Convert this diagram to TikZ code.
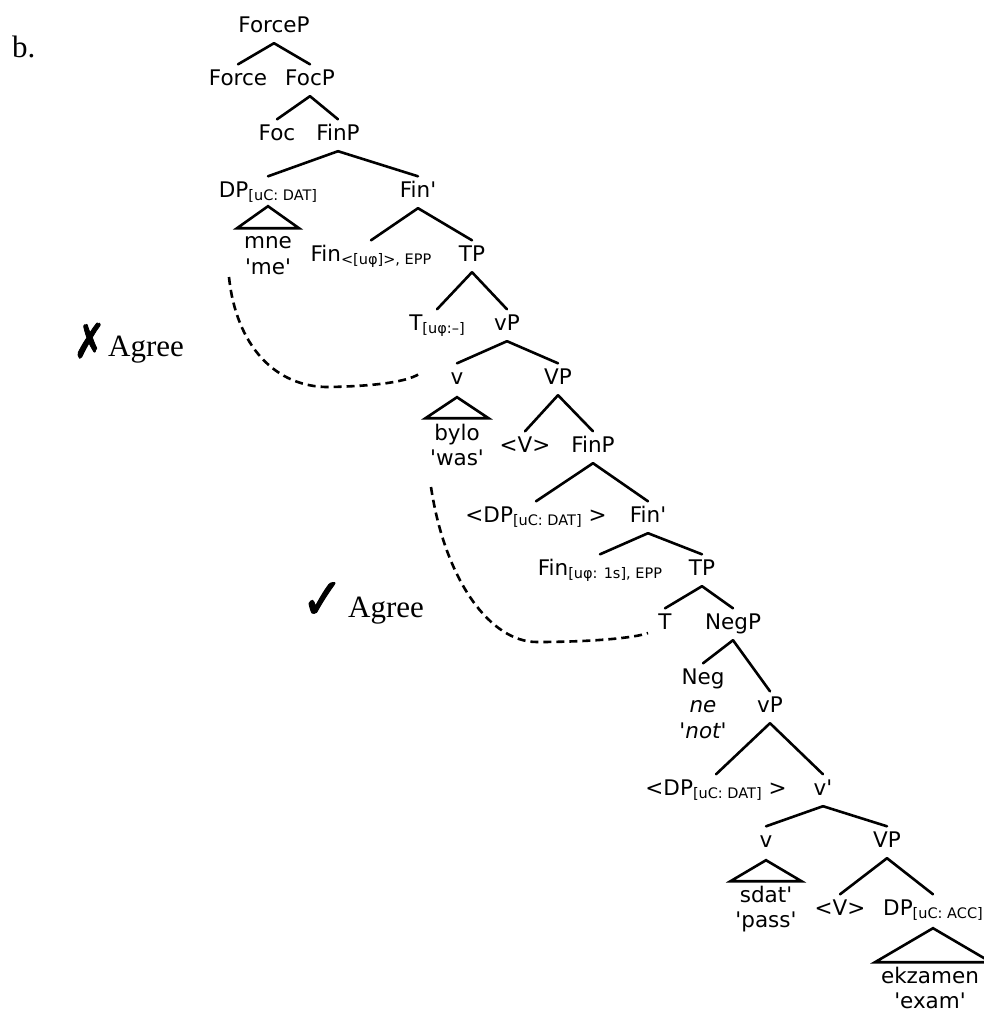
\documentclass[tikz,border=0pt]{standalone}
\usepackage{fontspec}
\newfontfamily\tf{DejaVu Sans}
\newfontfamily\tms{Liberation Serif}
\newfontfamily\symf{DejaVu Sans}[FakeBold=2]
\newcommand{\sbx}[1]{\raisebox{-3pt}{\fontsize{14.5}{15}\selectfont #1}}
\newcommand{\brn}[2]{\draw[brl] ([yshift=-11pt]#1.south) -- ([yshift=5pt]#2.north);}
\tikzset{
  cat/.style={font=\tf\fontsize{21.5}{24}\selectfont, inner sep=0pt, text height=15.5pt, text depth=0pt, anchor=base},
  lex/.style={font=\tf\fontsize{21.5}{24}\selectfont, inner sep=0pt, anchor=base},
  brl/.style={line width=2.6pt, line cap=round, line join=miter},
  agr/.style={line width=2.6pt, dash pattern=on 8pt off 5pt},
  serif/.style={font=\tms\fontsize{31}{34}\selectfont, inner sep=0pt, anchor=base west},
  symnode/.style={inner sep=0pt, text depth=0pt, anchor=south}
}
\begin{document}
\begin{tikzpicture}[x=1pt,y=-1pt]
\useasboundingbox (0,0) rectangle (984,1013);
% labels
\node[serif] (b) at (12,57) {b.};
\node[symnode] (xmark) at (89.5,358) {\symf\fontsize{38}{40}\selectfont\scalebox{1}[1.25]{✗}};
\node[serif] (xagree) at (108,356) {Agree};
\node[symnode] (cmark) at (322.5,619) {\symf\fontsize{50}{52}\selectfont\scalebox{1}[1.15]{✓}};
\node[serif] (cagree) at (348,617) {Agree};
% tree nodes
\node[cat] (ForceP) at (274,32) {ForceP};
\node[cat] (Force) at (238,85) {Force};
\node[cat] (FocP) at (310,85) {FocP};
\node[cat] (Foc) at (277,140) {Foc};
\node[cat] (FinPa) at (338,140) {FinP};
\node[cat] (DPa) at (268,197) {DP\sbx{[uC: DAT]}};
\node[cat] (Fina) at (418,197) {Fin'};
\node[lex] (mne) at (268,248) {mne};
\node[lex] (me) at (268,274) {'me'};
\node[cat] (Finb) at (371,261) {Fin\sbx{<[uφ]>, EPP}};
\node[cat] (TPa) at (472,261) {TP};
\node[cat] (Ta) at (437,330) {T\sbx{[uφ:–]}};
\node[cat] (vPa) at (507,330) {vP};
\node[cat] (va) at (457,384) {v};
\node[cat] (VPa) at (558,384) {VP};
\node[lex] (bylo) at (457,440) {bylo};
\node[lex] (was) at (457,465) {'was'};
\node[cat] (Va) at (525,452) {<V>};
\node[cat] (FinPb) at (593,452) {FinP};
\node[cat] (DPb) at (536,522) {<DP\sbx{[uC: DAT]} >};
\node[cat] (Finc) at (648,522) {Fin'};
\node[cat] (Find) at (600,575) {Fin\sbx{[uφ: 1s], EPP}};
\node[cat] (TPb) at (702,575) {TP};
\node[cat] (Tb) at (665,629) {T};
\node[cat] (NegP) at (733,629) {NegP};
\node[cat] (Neg) at (703,684) {Neg};
\node[lex] (ne) at (703,712) {\itshape ne};
\node[lex] (not) at (703,738) {\itshape 'not'};
\node[cat] (vPb) at (770,712) {vP};
\node[cat] (DPc) at (716,795) {<DP\sbx{[uC: DAT]} >};
\node[cat] (vbar) at (823,795) {v'};
\node[cat] (vb) at (766,847) {v};
\node[cat] (VPb) at (887,847) {VP};
\node[lex] (sdat) at (766,902) {sdat'};
\node[lex] (pass) at (766,927) {'pass'};
\node[cat] (Vb) at (840,915) {<V>};
\node[cat] (DPd) at (933,915) {DP\sbx{[uC: ACC]}};
\node[lex] (ekz) at (930,983) {ekzamen};
\node[lex] (exam) at (930,1008) {'exam'};
% branches
\brn{ForceP}{Force} \brn{ForceP}{FocP}
\brn{FocP}{Foc} \brn{FocP}{FinPa}
\brn{FinPa}{DPa} \brn{FinPa}{Fina}
\brn{Fina}{Finb} \brn{Fina}{TPa}
\brn{TPa}{Ta} \brn{TPa}{vPa}
\brn{vPa}{va} \brn{vPa}{VPa}
\brn{VPa}{Va} \brn{VPa}{FinPb}
\brn{FinPb}{DPb} \brn{FinPb}{Finc}
\brn{Finc}{Find} \brn{Finc}{TPb}
\brn{TPb}{Tb} \brn{TPb}{NegP}
\brn{NegP}{Neg} \brn{NegP}{vPb}
\brn{vPb}{DPc} \brn{vPb}{vbar}
\brn{vbar}{vb} \brn{vbar}{VPb}
\brn{VPb}{Vb} \brn{VPb}{DPd}
% triangles
\draw[brl] ([yshift=-9pt]DPa.south) -- ++(-31,22) -- ++(62,0) -- cycle;
\draw[brl] ([yshift=-13pt]va.south) -- ++(-31.5,21) -- ++(63,0) -- cycle;
\draw[brl] ([yshift=-13pt]vb.south) -- ++(-35.5,21) -- ++(71,0) -- cycle;
\draw[brl] ([yshift=-13pt]DPd.south) -- ++(-58,34) -- ++(116,0) -- cycle;
% agree curves
\coordinate (d1s) at (229,277);
\coordinate (d1m) at (330,387);
\coordinate (d1e) at (422,372);
\coordinate (d2s) at (431,487);
\coordinate (d2m) at (537,642);
\coordinate (d2e) at (648,633);
\draw[agr] (d1s) .. controls (236,345) and (275,388) .. (d1m) .. controls (375,386) and (410,382) .. (d1e);
\draw[agr] (d2s) .. controls (445,580) and (490,642) .. (d2m) .. controls (590,642) and (635,638) .. (d2e);
\end{tikzpicture}
\end{document}
